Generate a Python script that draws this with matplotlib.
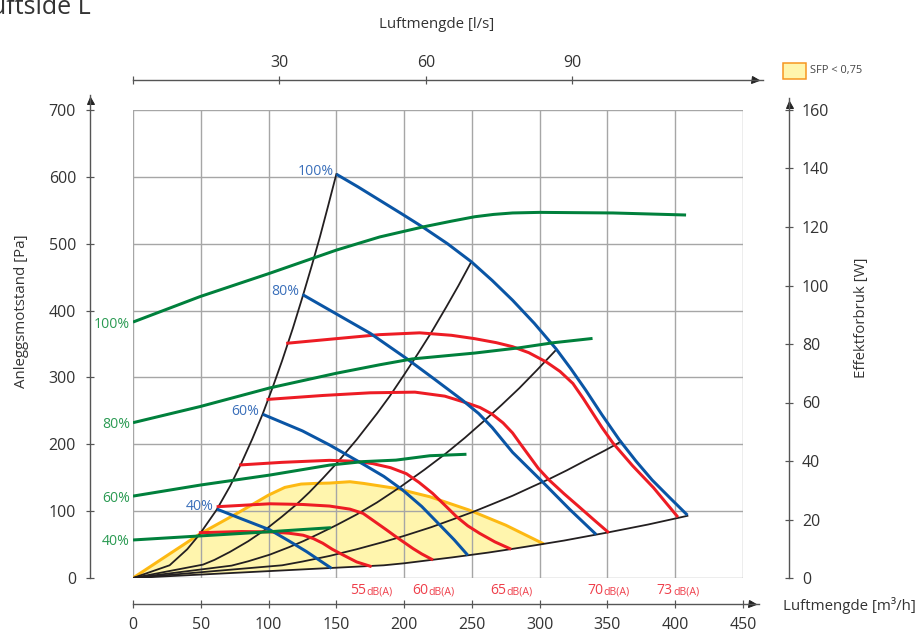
import matplotlib
matplotlib.use("Agg")
import matplotlib.pyplot as plt
import matplotlib.transforms as mtransforms
from matplotlib.patches import Rectangle

plt.rcParams['font.family'] = ['Open Sans', 'DejaVu Sans']

# anleggskurver (sort), luftmengde [m3/h] / trykk [Pa]
sys1_q = [0, 27, 40, 49, 61.7, 71.5, 80, 88, 95.6, 103, 110, 118, 125, 132, 138, 144, 150]
sys1_p = [0, 19, 43, 65, 102, 137, 172, 208, 245, 285, 325, 374, 420, 468, 511, 557, 604]
sys2_q = [0, 51.6, 60, 71.5, 85, 98.5, 110, 120.6, 130, 140, 150, 165, 180, 189.4, 200, 210,
          220, 231, 240, 249.6]
sys2_p = [0, 20, 27, 39, 55, 73.6, 92, 110, 128, 149, 171, 207, 246, 272, 304, 335,
          367, 405, 437, 473]
sys3_q = [0, 72.7, 85, 101, 115, 125.5, 137, 150, 165, 180, 196.8, 215, 230, 245, 259, 272,
          285, 298, 312]
sys3_p = [0, 18.5, 25, 35, 46, 55, 66, 79, 95, 113, 135.6, 162, 185, 210, 235, 259,
          284, 311, 341]
sys4_q = [0, 110, 125, 145, 165, 185, 200, 220, 235, 251, 265, 280, 295, 307, 320, 335, 348, 360]
sys4_p = [0, 19, 24.6, 33, 43, 54, 63, 76, 87, 99, 110.5, 123, 137, 148, 161, 177, 190.6, 204]
sys5_q = [0, 185, 200, 220, 235, 248, 262, 275, 290, 302, 318, 335, 350, 365, 380, 395, 409]
sys5_p = [0, 19, 22, 27, 30.7, 34.2, 38, 42, 46.8, 50.7, 56, 62.4, 68, 74, 80, 86.7, 93]

# SFP < 0,75 (gult felt), overkant
sfp_q = [0, 49.4, 78.8, 100, 112, 124, 135, 145, 160, 170, 194, 219, 248, 275, 302]
sfp_p = [0, 66, 99, 124, 135.5, 140.5, 141.5, 142, 144, 141.5, 134, 121.5, 101.6, 79, 52]

# viftekurver (blaa), trykk [Pa]
fan_labels = ['100%', '80%', '60%', '40%']
fan100_q = [150, 166, 182, 198, 213.7, 232, 249.6, 265, 280, 296, 312, 323, 334, 346, 359,
            371, 383, 396, 409]
fan100_p = [604, 585, 565, 545, 525, 500, 473, 445, 415.5, 381, 343, 313, 281, 244, 206,
            175, 146.5, 120, 94]
fan80_q = [125, 150, 175, 202, 222, 243, 255, 265, 280, 302, 322, 341.7]
fan80_p = [424, 395, 366, 328, 298, 266, 246, 225, 188, 144, 103, 65]
fan60_q = [95.6, 125, 145, 170, 185, 199, 213, 226, 237, 247]
fan60_p = [245, 220, 199, 170, 152, 131.5, 107, 80, 57, 34]
fan40_q = [62, 80, 101, 115, 128, 146.4]
fan40_p = [103, 88.5, 72, 55.5, 39.5, 14.5]

# lydkurver (roed), trykk [Pa]
db_labels = ['73', '70', '65', '60', '55']
db73_q = [113, 150, 182, 211.5, 235, 252, 268, 280, 292, 305, 315, 324.5, 332, 339, 346, 354,
          368.5, 384, 402]
db73_p = [351, 358, 364, 366.7, 363, 358, 352, 346, 337, 323, 309, 291, 269, 247, 225, 202,
          168, 135, 91]
db70_q = [98.5, 140, 175, 208, 230, 246, 256, 265, 273, 280, 286, 292.5, 299, 307, 318, 329,
          340, 351]
db70_p = [267, 273, 277, 278, 272, 262, 255, 245, 232, 217, 200, 182, 164, 146.5, 126, 106.6,
          87, 67.7]
db65_q = [78.3, 110, 145, 165, 177, 190, 201.7, 211, 221, 230, 238.5, 247, 255.7, 267, 279]
db65_p = [169, 173, 176, 174.5, 171, 165, 156, 143, 126.6, 109, 92, 78, 66.8, 54, 43]
db60_q = [61.7, 101, 125, 145, 160, 169.7, 180, 187, 194, 206.6, 213, 221.3]
db60_p = [106.6, 111, 110, 107.6, 103, 96.7, 82, 72, 61.7, 44, 36, 27]
db55_q = [48.6, 80, 101, 115, 125.5, 133, 140, 147, 155, 165, 176]
db55_p = [67.7, 69.5, 69, 67, 64, 59, 52, 43, 34.4, 24, 17]

# effektforbruk (groenn) [W]
pow100_q = [0, 49.4, 101, 150, 182, 213.7, 235, 252, 266, 280, 300, 354, 408]
pow100_w = [87.5, 96.2, 104.2, 112.1, 116.6, 120, 122, 123.5, 124.3, 124.8, 125, 124.8, 124.1]
pow80_q = [0, 49.4, 101, 150, 182, 206, 252, 285, 309.5, 339]
pow80_w = [53.1, 58.6, 65, 70, 72.9, 74.9, 76.9, 78.7, 80.4, 81.9]
pow60_q = [0, 50, 101, 145, 170, 194, 219, 246]
pow60_w = [28, 31.8, 35.2, 38.6, 39.8, 40.3, 41.8, 42.3]
pow40_q = [0, 50, 100, 146]
pow40_w = [13, 14.4, 15.8, 17.2]

BLUE = '#0a55a5'
RED = '#ed1c24'
GREEN = '#00803c'
BLACK = '#231f20'
AXC = '#555555'
TXT = '#333333'

W, H = 923, 633
fig = plt.figure(figsize=(W / 72, H / 72), dpi=72)
ax = fig.add_axes([133 / W, (H - 578) / H, 610 / W, 468 / H])
ax.set_xlim(0, 450)
ax.set_ylim(0, 700)

def shift(axis, dx, dy):
    return axis.transData + mtransforms.ScaledTranslation(dx / 72, dy / 72, fig.dpi_scale_trans)

# grid
ax.set_xticks(range(0, 451, 50))
ax.set_yticks(range(0, 701, 100))
ax.grid(True, color='#a6a6a6', lw=1.4)
for gl in ax.get_xgridlines() + ax.get_ygridlines():
    gl.set_clip_on(False)

for s in ['top', 'right']:
    ax.spines[s].set_visible(False)
ax.spines['left'].set_position(('outward', 43))
ax.spines['left'].set_bounds(0, 722)
ax.spines['bottom'].set_position(('outward', 26))
ax.spines['bottom'].set_bounds(0, 462)
for s in ['left', 'bottom']:
    ax.spines[s].set_color(AXC)
    ax.spines[s].set_linewidth(1.4)
ax.tick_params(axis='both', direction='inout', length=8, width=1.2, color=AXC,
               labelsize=16, labelcolor=TXT)
ax.tick_params(axis='y', pad=10)
ax.tick_params(axis='x', pad=9)
ax.plot(457, 0, marker='>', ms=7, color='#222222', clip_on=False, transform=shift(ax, 0, -26))
ax.plot(0, 715, marker='^', ms=7, color='#222222', clip_on=False, transform=shift(ax, -43, 0))

# yellow SFP area
poly_q = sfp_q + [q for q in sys5_q[::-1] if q < sfp_q[-1]]
poly_p = sfp_p + [p for q, p in zip(sys5_q[::-1], sys5_p[::-1]) if q < sfp_q[-1]]
ax.fill(poly_q, poly_p, color='#fff5ad', zorder=1, lw=0)
ax.plot(sfp_q, sfp_p, color='#fdb913', lw=3, zorder=2, solid_joinstyle='round')

for q, p in [(sys1_q, sys1_p), (sys2_q, sys2_p), (sys3_q, sys3_p), (sys4_q, sys4_p), (sys5_q, sys5_p)]:
    ax.plot(q, p, color=BLACK, lw=1.8, zorder=3, solid_joinstyle='round')

for q, p, lab in zip([db73_q, db70_q, db65_q, db60_q, db55_q],
                     [db73_p, db70_p, db65_p, db60_p, db55_p], db_labels):
    ax.plot(q, p, color=RED, lw=3, zorder=4, solid_capstyle='butt', solid_joinstyle='round')
    ax.annotate(lab, (q[-1], 0), xytext=(-5, -16), textcoords='offset points',
                ha='right', va='baseline', fontsize=14, color='#ef3e4a', annotation_clip=False)
    ax.annotate('dB(A)', (q[-1], 0), xytext=(-5, -16), textcoords='offset points',
                ha='left', va='baseline', fontsize=10.5, color='#ef3e4a', annotation_clip=False)

for q, p, lab in zip([fan100_q, fan80_q, fan60_q, fan40_q],
                     [fan100_p, fan80_p, fan60_p, fan40_p], fan_labels):
    ax.plot(q, p, color=BLUE, lw=3, zorder=5, solid_capstyle='butt', solid_joinstyle='round')
    ax.annotate(lab, (q[0], p[0]), xytext=(-3, 3), textcoords='offset points',
                ha='right', va='center', fontsize=14, color='#3a6fba')

# right axis, effekt
axw = ax.twinx()
axw.set_ylim(0, 160)
for s in ['top', 'left', 'bottom']:
    axw.spines[s].set_visible(False)
axw.spines['right'].set_position(('outward', 46))
axw.spines['right'].set_bounds(0, 164)
axw.spines['right'].set_color(AXC)
axw.spines['right'].set_linewidth(1.4)
axw.set_yticks(range(0, 161, 20))
axw.tick_params(axis='y', direction='inout', length=8, width=1.2, color=AXC,
                labelsize=16, labelcolor=TXT, pad=9)
axw.plot(450, 162, marker='^', ms=7, color='#222222', clip_on=False, transform=shift(axw, 46, 0))

for q, w, lab in zip([pow100_q, pow80_q, pow60_q, pow40_q],
                     [pow100_w, pow80_w, pow60_w, pow40_w], fan_labels):
    axw.plot(q, w, color=GREEN, lw=3, zorder=6, solid_capstyle='butt', solid_joinstyle='round')
    axw.annotate(lab, (q[0], w[0]), xytext=(-3, -2), textcoords='offset points',
                 ha='right', va='center', fontsize=14, color='#2a9a52', annotation_clip=False)

# top axis, l/s
axt = ax.twiny()
axt.set_xlim(0, 450 / 3.6)
for s in ['right', 'left', 'bottom']:
    axt.spines[s].set_visible(False)
axt.spines['top'].set_position(('outward', 30))
axt.spines['top'].set_bounds(0, 129)
axt.spines['top'].set_color(AXC)
axt.spines['top'].set_linewidth(1.4)
axt.set_xticks([0, 30, 60, 90])
axt.set_xticklabels(['', '30', '60', '90'])
axt.tick_params(axis='x', direction='inout', length=8, width=1.2, color=AXC,
                labelsize=16, labelcolor=TXT, pad=5)
axt.plot(127.5, 700, marker='>', ms=7, color='#222222', clip_on=False, transform=shift(axt, 0, 30))

# texts
fig.text(22 / W, 1 - 311 / H, 'Anleggsmotstand [Pa]', rotation=90, ha='center', va='center',
         fontsize=15, color=TXT)
fig.text(862 / W, 1 - 318 / H, 'Effektforbruk [W]', rotation=90, ha='center', va='center',
         fontsize=15, color=TXT)
fig.text(437 / W, 1 - 25 / H, 'Luftmengde [l/s]', ha='center', va='center', fontsize=15, color=TXT)
fig.text(783 / W, 1 - 606 / H, 'Luftmengde [m³/h]', ha='left', va='center', fontsize=15, color=TXT)
fig.text(91 / W, 1 - 14 / H, 'Tilluftside L', ha='right', va='baseline', fontsize=25, color=TXT)

fig.patches.append(Rectangle((783 / W, 1 - 79 / H), 23 / W, 16 / H, transform=fig.transFigure,
                             facecolor='#fff5ad', edgecolor='#f7941d', lw=1.5))
fig.text(810 / W, 1 - 71 / H, 'SFP < 0,75', ha='left', va='center', fontsize=11, color='#444444')

fig.savefig('out.png', dpi=72)
